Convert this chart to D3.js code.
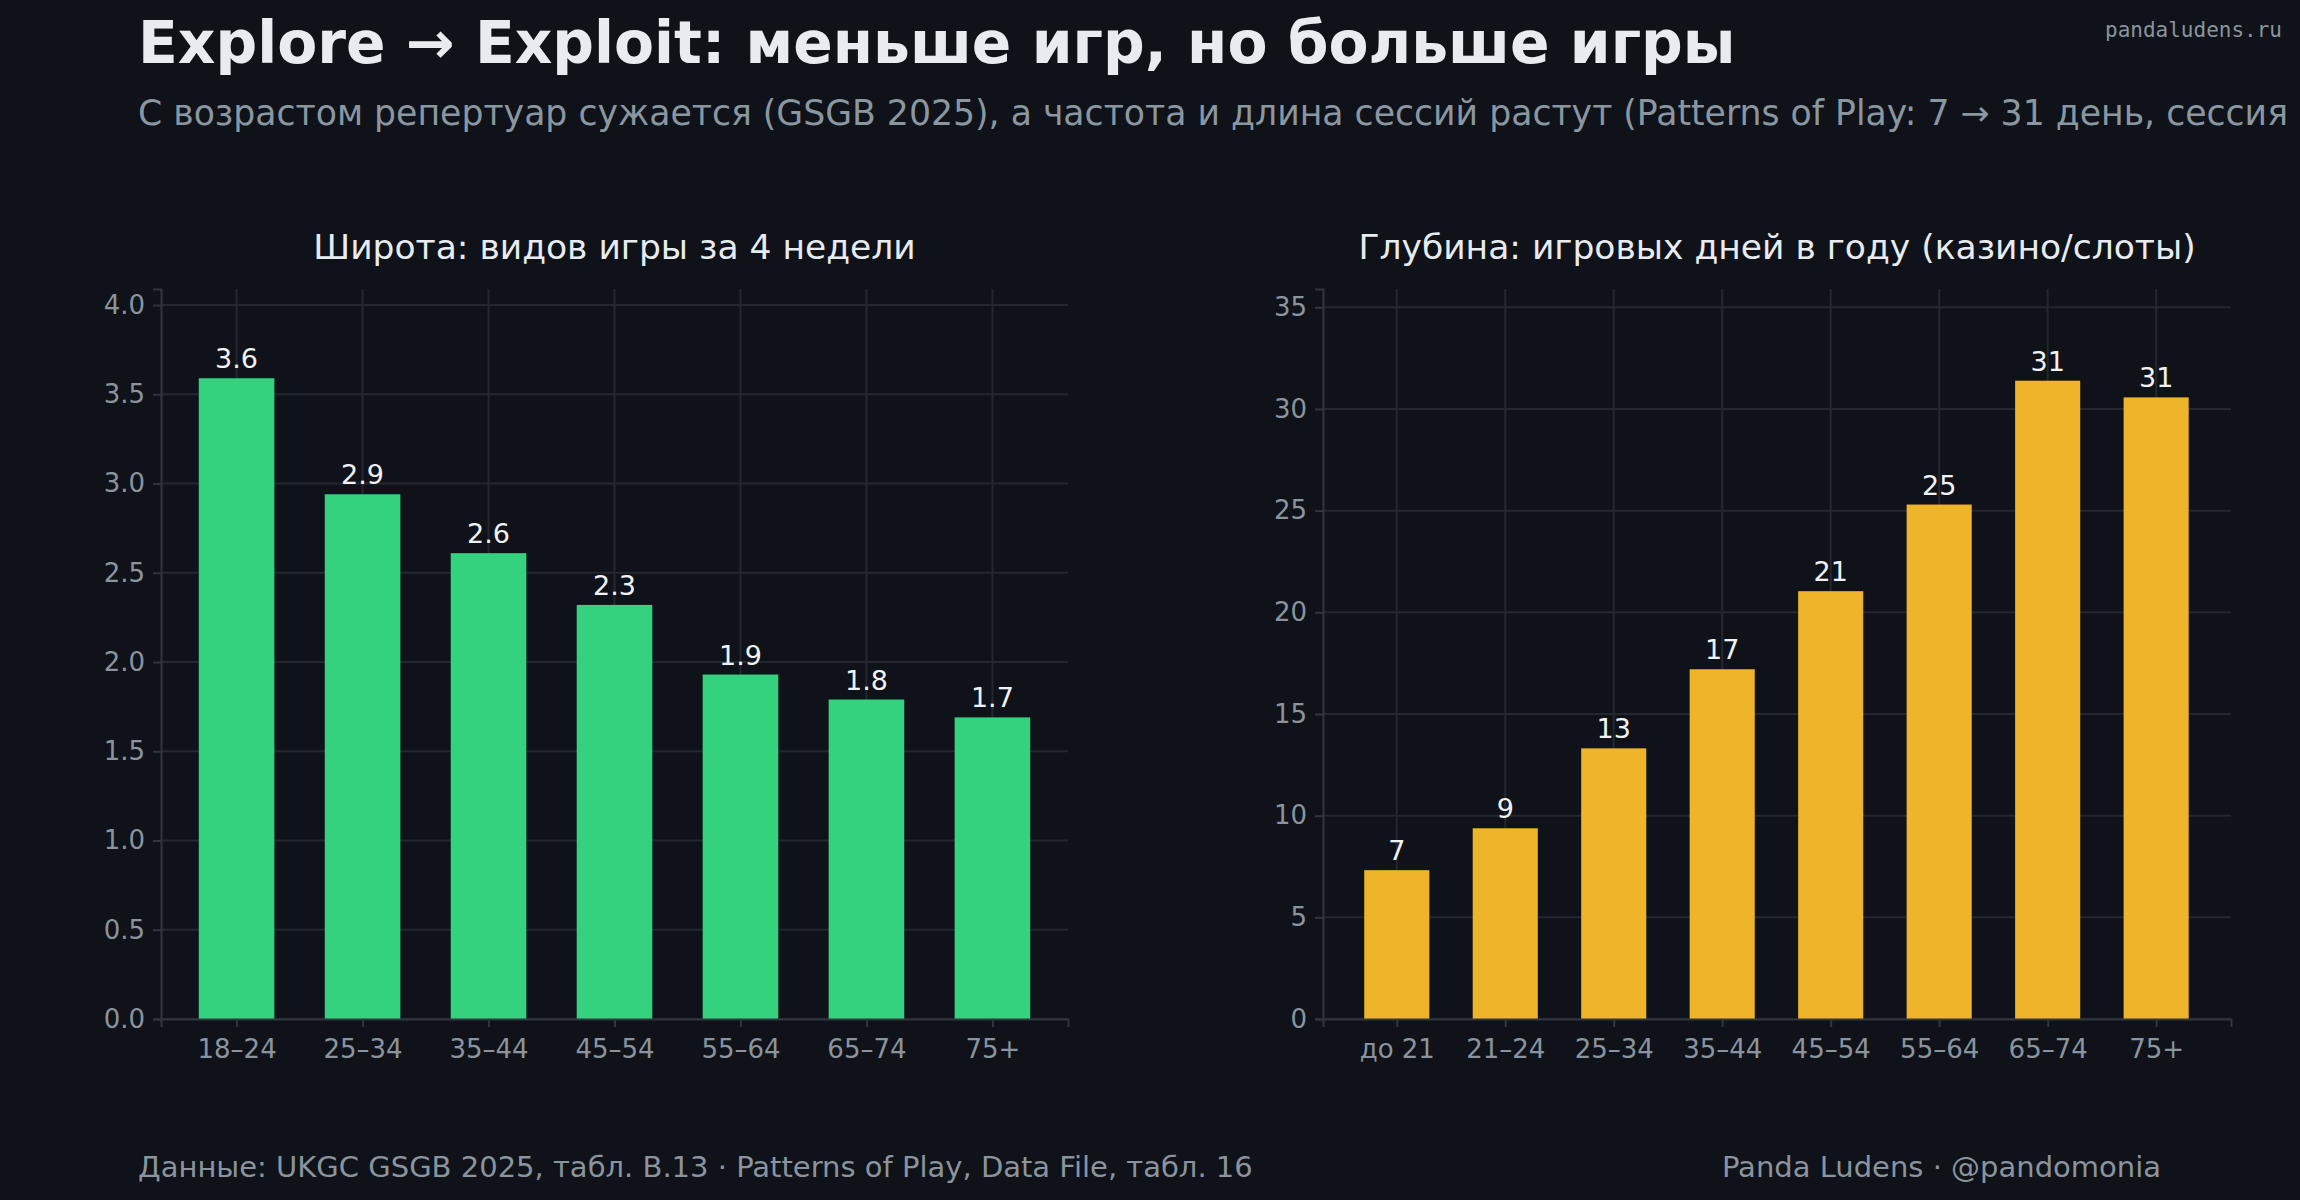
<!DOCTYPE html>
<html><head><meta charset="utf-8">
<script src="https://cdn.jsdelivr.net/npm/d3@7"></script>
<style>body{margin:0;background:#0f1218;overflow:hidden}text{font-family:"DejaVu Sans",sans-serif}</style>
</head><body>
<script>
const leftCats=["18–24","25–34","35–44","45–54","55–64","65–74","75+"];
const leftVals=[3.59,2.94,2.61,2.32,1.93,1.79,1.69];
const leftLabels=["3.6","2.9","2.6","2.3","1.9","1.8","1.7"];
const leftTicks=[0,0.5,1,1.5,2,2.5,3,3.5,4];
const rightCats=["до 21","21–24","25–34","35–44","45–54","55–64","65–74","75+"];
const rightVals=[7.32,9.38,13.31,17.2,21.04,25.3,31.39,30.57];
const rightLabels=["7","9","13","17","21","25","31","31"];
const rightTicks=[0,5,10,15,20,25,30,35];

const W=2300,H=1200;
const svg=d3.select("body").append("svg").attr("width",W).attr("height",H);
svg.append("rect").attr("width",W).attr("height",H).attr("fill","#0f1218");
svg.append("text").attr("x",138).attr("y",63).attr("fill","#e8ecf0").attr("font-size",58.3).attr("font-weight","bold").text("Explore → Exploit: меньше игр, но больше игры");
const sub=svg.append("text").attr("x",138).attr("y",125).attr("fill","#8a96a0").attr("font-size",34.7).text("С возрастом репертуар сужается (GSGB 2025), а частота и длина сессий растут (Patterns of Play: 7 → 31 день, сессия");
const sw=sub.node().getComputedTextLength();
if(sw>2150) sub.attr("textLength",2150).attr("lengthAdjust","spacingAndGlyphs");
svg.append("text").attr("x",2282).attr("y",37).attr("text-anchor","end").attr("fill","#8a949e").attr("font-size",21).style("font-family","'DejaVu Sans Mono',monospace").text("pandaludens.ru");
svg.append("text").attr("x",138).attr("y",1177).attr("fill","#8a949e").attr("font-size",29).text("Данные: UKGC GSGB 2025, табл. B.13 · Patterns of Play, Data File, табл. 16");
svg.append("text").attr("x",2161).attr("y",1177).attr("text-anchor","end").attr("fill","#8a949e").attr("font-size",29).text("Panda Ludens · @pandomonia");

function panel(o){
  const g=svg.append("g");
  const x=d3.scaleLinear().domain(o.xd).range([o.x0,o.x1]);
  const y=d3.scaleLinear().domain(o.yd).range([o.y1,o.y0]);
  g.selectAll(".hg").data(o.ticks).join("line").attr("x1",o.x0).attr("x2",o.x1).attr("y1",d=>y(d)).attr("y2",d=>y(d)).attr("stroke","#232830").attr("stroke-width",2);
  g.selectAll(".vg").data(o.cats).join("line").attr("x1",(d,i)=>x(i)).attr("x2",(d,i)=>x(i)).attr("y1",o.y0).attr("y2",o.y1).attr("stroke","#232830").attr("stroke-width",2);
  g.selectAll(".bar").data(o.vals).join("rect").attr("x",(d,i)=>x(i-0.3)).attr("width",x(0.3)-x(-0.3)).attr("y",d=>y(d)).attr("height",d=>y(0)-y(d)).attr("fill",o.color);
  g.selectAll(".lbl").data(o.vals).join("text").attr("x",(d,i)=>x(i)).attr("y",d=>y(d)-10).attr("text-anchor","middle").attr("fill","#f0f2f5").attr("font-size",27).text((d,i)=>o.labels[i]);
  const ya=g.append("g").attr("transform",`translate(${o.x0},0)`).call(d3.axisLeft(y).tickValues(o.ticks).tickFormat(o.fmt).tickSize(8).tickPadding(8));
  const xa=g.append("g").attr("transform",`translate(0,${o.y1})`).call(d3.axisBottom(x).tickValues(d3.range(o.cats.length)).tickFormat(i=>o.cats[i]).tickSize(8).tickPadding(13));
  [ya,xa].forEach(a=>{a.selectAll("path,line").attr("stroke","#30363d").attr("stroke-width",2);a.selectAll("text").attr("fill","#8a949e").attr("font-size",26).attr("font-family","DejaVu Sans");});
  g.append("text").attr("x",(o.x0+o.x1)/2).attr("y",259).attr("text-anchor","middle").attr("fill","#e8ecf0").attr("font-size",34.5).text(o.title);
}
panel({x0:161,x1:1068,y0:289,y1:1019,xd:[-0.6,6.6],yd:[0,4.09],cats:leftCats,vals:leftVals,labels:leftLabels,ticks:leftTicks,fmt:d3.format(".1f"),color:"#34d17f",title:"Широта: видов игры за 4 недели"});
panel({x0:1323,x1:2231,y0:289,y1:1019,xd:[-0.68,7.69],yd:[0,35.9],cats:rightCats,vals:rightVals,labels:rightLabels,ticks:rightTicks,fmt:d3.format("d"),color:"#eeb42a",title:"Глубина: игровых дней в году (казино/слоты)"});
</script>
</body></html>
